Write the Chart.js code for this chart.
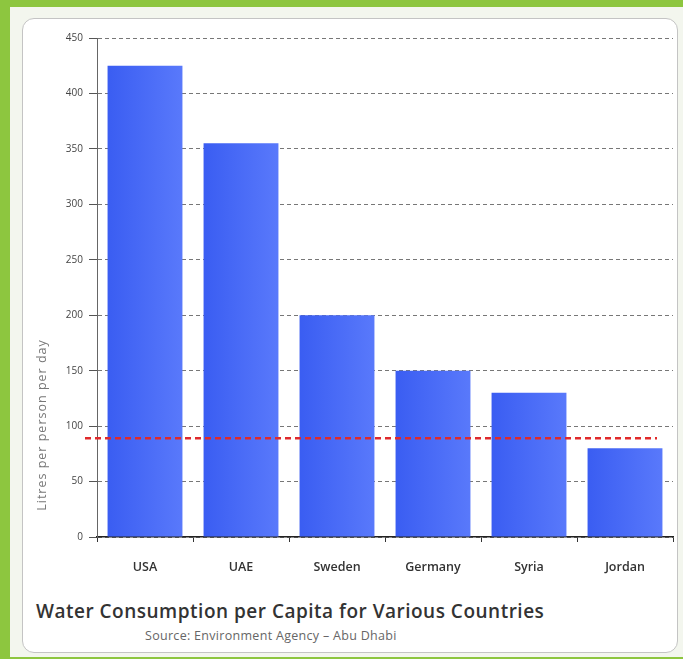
<!DOCTYPE html>
<html>
<head>
<meta charset="utf-8">
<script src="https://cdn.jsdelivr.net/npm/chart.js@4/dist/chart.umd.min.js"></script>
<style>
  html, body { margin: 0; padding: 0; }
  body { width: 683px; height: 659px; background: #8dc63f; position: relative; overflow: hidden; font-family: "Open Sans", sans-serif; }
  #inner { position: absolute; left: 10px; top: 7px; width: 673px; height: 650px; background: #f3f6ee; }
  #box { position: absolute; left: 22px; top: 18px; width: 654px; height: 633px; background: #fff; border: 1px solid #c4c4c4; border-radius: 12px; }
  #wrap { position: absolute; left: 22px; top: 18px; width: 656px; height: 570px; }
  #title { position: absolute; left: 36px; top: 598px; font-size: 19px; letter-spacing: 0.5px; font-weight: 600; color: #333; white-space: nowrap; }
  #source { position: absolute; left: 145px; top: 627px; font-size: 12.5px; letter-spacing: 0.3px; color: #666; white-space: nowrap; }
</style>
</head>
<body>
<div id="inner"></div>
<div id="box"></div>
<div id="wrap"><canvas id="chart"></canvas></div>
<div id="title">Water Consumption per Capita for Various Countries</div>
<div id="source">Source: Environment Agency – Abu Dhabi</div>
<script>
const countries = ['USA', 'UAE', 'Sweden', 'Germany', 'Syria', 'Jordan'];
const litresPerDay = [425, 355, 200, 150, 130, 80];
const referenceLevel = 89;   // red dashed line
const yTicks = [0, 50, 100, 150, 200, 250, 300, 350, 400, 450];
const barShare = 0.78;

// left-to-right shading of each bar (solid until the scale has been laid out)
function barFill(context) {
    const chart = context.chart;
    const xs = chart.scales.x;
    if (!xs || context.dataIndex === undefined) return '#4066f4';
    const half = xs.width / countries.length * barShare / 2;
    const cx = xs.getPixelForValue(context.dataIndex);
    if (!isFinite(half) || !isFinite(cx) || half <= 0) return '#4066f4';
    const g = chart.ctx.createLinearGradient(cx - half, 0, cx + half, 0);
    g.addColorStop(0, '#3a5df2');
    g.addColorStop(1, '#5979fb');
    return g;
}

// red dashed reference line + rotated y-axis title
const extras = {
    id: 'extras',
    afterDatasetsDraw(chart) {
        const ctx = chart.ctx;
        const area = chart.chartArea;
        const y = chart.scales.y.getPixelForValue(referenceLevel);
        ctx.save();
        ctx.strokeStyle = '#e02a2a';
        ctx.lineWidth = 2.5;
        ctx.setLineDash([6, 4]);
        ctx.beginPath();
        ctx.moveTo(area.left - 12, y);
        ctx.lineTo(area.right - 16, y);
        ctx.stroke();
        ctx.restore();

        ctx.save();
        ctx.translate(20, 407);
        ctx.rotate(-Math.PI / 2);
        ctx.font = '12.5px "Open Sans"';
        ctx.letterSpacing = '1px';
        ctx.fillStyle = '#777';
        ctx.textAlign = 'center';
        ctx.textBaseline = 'middle';
        ctx.fillText('Litres per person per day', 0, 0);
        ctx.restore();
    }
};

const chart = new Chart(document.getElementById('chart'), {
    type: 'bar',
    data: {
        labels: countries,
        datasets: [{
            data: litresPerDay,
            backgroundColor: barFill,
            borderWidth: 0,
            barPercentage: barShare,
            categoryPercentage: 1
        }]
    },
    options: {
        responsive: true,
        maintainAspectRatio: false,
        animation: false,
        layout: { padding: { top: 20, right: 5, left: 0, bottom: 0 } },
        plugins: { legend: { display: false }, tooltip: { enabled: false } },
        scales: {
            x: {
                afterFit: s => { s.height = 51; },
                border: { color: '#222', width: 1.5 },
                grid: { drawOnChartArea: false, drawTicks: true, tickLength: 5, color: '#333', offset: true },
                ticks: { padding: 18, color: '#333', font: { family: 'Open Sans', size: 12.5, weight: '600' } }
            },
            y: {
                min: 0,
                max: 450,
                afterFit: s => { s.width = 75; },
                afterBuildTicks: s => { s.ticks = yTicks.map(v => ({ value: v })); },
                border: { color: '#666', width: 1, dash: [4, 3] },
                grid: { color: '#777', lineWidth: 1, tickLength: 8, tickColor: '#555', tickBorderDash: [] },
                ticks: { padding: 6, color: '#444', font: { family: 'Open Sans', size: 10 } }
            }
        }
    },
    plugins: [extras]
});
chart.update();
</script>
</body>
</html>
